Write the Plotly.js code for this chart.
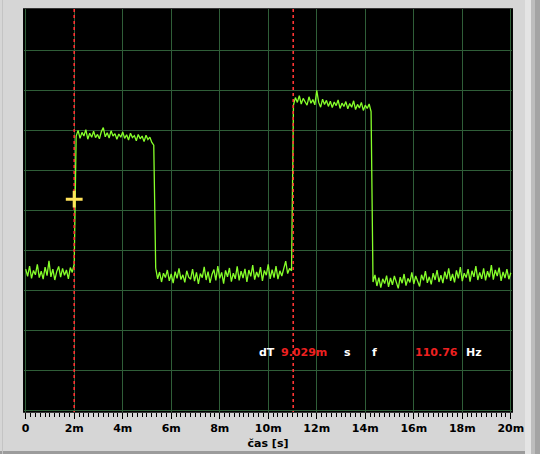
<!DOCTYPE html>
<html>
<head>
<meta charset="utf-8">
<script src="https://cdn.plot.ly/plotly-3.0.1.min.js"></script>
<style>
html,body{margin:0;padding:0;background:#d6d6d6;}
#chart{width:540px;height:454px;}
</style>
</head>
<body>
<div id="chart"></div>
<script>
// ---- data (time in ms, amplitude in screen divisions) ----
const sampleStep = 0.08; // ms between samples
const signal = [
  // low level 0 .. 2.00 ms
  3.52, 3.34, 3.60, 3.29, 3.49, 3.38, 3.64, 3.31, 3.47, 3.27,
  3.57, 3.36, 3.73, 3.33, 3.52, 3.25, 3.46, 3.59, 3.32, 3.54,
  3.37, 3.50, 3.28, 3.56, 3.44, 3.65,
  // first pulse 2.08 .. 5.28 ms
  6.85, 6.99, 6.79, 6.94, 6.85, 7.01, 6.77, 6.92, 6.82, 6.97,
  6.81, 6.89, 6.78, 6.96, 7.06, 6.83, 6.93, 6.80, 6.98, 6.85,
  6.91, 6.77, 6.90, 6.82, 6.95, 6.79, 6.88, 6.75, 6.92, 6.81,
  6.86, 6.73, 6.89, 6.78, 6.85, 6.71, 6.87, 6.76, 6.82, 6.69,
  6.62,
  // low level 5.36 .. 10.88 ms
  3.55, 3.28, 3.45, 3.20, 3.42, 3.31, 3.50, 3.23, 3.40, 3.17,
  3.46, 3.29, 3.54, 3.26, 3.38, 3.19, 3.48, 3.32, 3.27, 3.52,
  3.22, 3.44, 3.15, 3.41, 3.31, 3.58, 3.25, 3.46, 3.18, 3.39,
  3.51, 3.24, 3.60, 3.29, 3.44, 3.16, 3.49, 3.33, 3.55, 3.21,
  3.42, 3.28, 3.59, 3.24, 3.47, 3.30, 3.53, 3.20, 3.50, 3.34,
  3.62, 3.26, 3.45, 3.32, 3.57, 3.23, 3.49, 3.37, 3.64, 3.28,
  3.51, 3.31, 3.60, 3.27, 3.48, 3.35, 3.56, 3.72, 3.41, 3.54,
  3.48,
  // second pulse 11.04 .. 14.24 ms
  7.62, 7.81, 7.69, 7.86, 7.65, 7.79, 7.71, 7.62, 7.83, 7.67,
  7.76, 7.63, 7.99, 7.69, 7.57, 7.77, 7.64, 7.74, 7.59, 7.72,
  7.56, 7.70, 7.61, 7.75, 7.54, 7.67, 7.59, 7.71, 7.53, 7.66,
  7.57, 7.73, 7.51, 7.64, 7.55, 7.69, 7.49, 7.62, 7.54, 7.65,
  7.46,
  // low level 14.32 .. 20.00 ms
  3.20, 3.38, 3.10, 3.31, 3.06, 3.28, 3.16, 3.36, 3.08, 3.30,
  3.13, 3.35, 3.21, 3.04, 3.32, 3.17, 3.40, 3.11, 3.29, 3.19,
  3.44, 3.15, 3.35, 3.22, 3.09, 3.38, 3.24, 3.47, 3.18, 3.33,
  3.14, 3.42, 3.25, 3.50, 3.20, 3.37, 3.17, 3.46, 3.27, 3.54,
  3.23, 3.40, 3.19, 3.49, 3.29, 3.57, 3.22, 3.42, 3.31, 3.52,
  3.21, 3.48, 3.33, 3.60, 3.25, 3.44, 3.28, 3.54, 3.24, 3.47,
  3.32, 3.62, 3.26, 3.50, 3.35, 3.56, 3.23, 3.45, 3.30, 3.52,
  3.27, 3.43
];
const cursorTimes = [2.0, 11.03];
const cursorMarkX = [2.0];
const cursorMarkY = [5.27];
const tickValues = [0, 2, 4, 6, 8, 10, 12, 14, 16, 18, 20];
const tickLabels = ['0', '2m', '4m', '6m', '8m', '10m', '12m', '14m', '16m', '18m', '20m'];
const readoutLabels = ['dT', '9.029m', 's', 'f', '110.76', 'Hz'];
const xTitle = 'čas [s]';

// ---- build ----
const times = signal.map((_, i) => i * sampleStep);
const FONT = 'DejaVu Sans, Verdana, sans-serif';

const traces = [
  {
    x: times, y: signal, type: 'scatter', mode: 'lines',
    line: {color: '#86ff2a', width: 1.3}, hoverinfo: 'skip', showlegend: false
  }
];
cursorTimes.forEach(t => {
  traces.push({
    x: [t, t], y: [-1, 11], type: 'scatter', mode: 'lines',
    line: {color: '#ff3434', width: 1.6, dash: 'dot'}, hoverinfo: 'skip', showlegend: false
  });
});
traces.push({
  x: cursorMarkX, y: cursorMarkY, type: 'scatter', mode: 'markers',
  marker: {symbol: 'cross-thin-open', size: 12, color: '#ffe25a', line: {color: '#ffe25a', width: 3}},
  hoverinfo: 'skip', showlegend: false
});

// readout text positions (layout placement)
const readoutX = [9.53, 10.44, 13.04, 14.19, 15.96, 18.07];
const readoutColor = ['#ffffff', '#ee2020', '#ffffff', '#ffffff', '#ee2020', '#ffffff'];
const annotations = readoutLabels.map((txt, i) => ({
  x: readoutX[i], y: 1.43, xref: 'x', yref: 'y', text: txt, showarrow: false,
  xanchor: 'left', yanchor: 'middle',
  font: {family: FONT, size: 11, color: readoutColor[i], weight: 'bold'}
}));

const shapes = [
  // black frame slightly larger than the data window
  {type: 'rect', xref: 'paper', yref: 'paper', x0: -0.002, x1: 1.002, y0: -0.002, y1: 1.002,
   fillcolor: '#000000', line: {width: 0}, layer: 'below'},
  // right bevel strips
  {type: 'rect', xref: 'paper', yref: 'paper', x0: (525-24)/488, x1: (531-24)/488, y0: -0.2, y1: 1.1,
   fillcolor: '#e4e4e4', line: {width: 0}, layer: 'below'},
  {type: 'rect', xref: 'paper', yref: 'paper', x0: (531-24)/488, x1: (535-24)/488, y0: -0.2, y1: 1.1,
   fillcolor: '#bdbdbd', line: {width: 0}, layer: 'below'},
  {type: 'rect', xref: 'paper', yref: 'paper', x0: (535-24)/488, x1: (541-24)/488, y0: -0.2, y1: 1.1,
   fillcolor: '#a4a4a4', line: {width: 0}, layer: 'below'},
  // bottom edge line
  {type: 'rect', xref: 'paper', yref: 'paper', x0: -0.1, x1: (525-24)/488, y0: -(451-412)/403, y1: -(455-412)/403,
   fillcolor: '#9c9c9c', line: {width: 0}, layer: 'below'},
  // left edge line
  {type: 'rect', xref: 'paper', yref: 'paper', x0: (2-24)/488, x1: (3-24)/488, y0: -0.2, y1: 1.1,
   fillcolor: '#c4c4c4', line: {width: 0}, layer: 'below'}
];

const layout = {
  width: 540, height: 454,
  margin: {l: 24, r: 28, t: 9, b: 42, pad: 0},
  paper_bgcolor: '#d6d6d6',
  plot_bgcolor: '#000000',
  showlegend: false,
  font: {family: FONT, size: 11, color: '#000000'},
  xaxis: {
    range: [-0.07, 20.05],
    tickmode: 'array', tickvals: tickValues, ticktext: tickLabels,
    ticks: 'outside', ticklen: 6, tickwidth: 1, tickcolor: '#000000',
    tickfont: {family: FONT, size: 11, color: '#000000', weight: 'bold'},
    showgrid: true, gridcolor: '#2f5e38', gridwidth: 1,
    zeroline: false, showline: false, fixedrange: true,
    minor: {dtick: 0.2, tick0: 0, ticks: 'outside', ticklen: 4, tickwidth: 1, tickcolor: '#000000', showgrid: false},
    title: {text: xTitle, standoff: 5, font: {family: FONT, size: 11, color: '#000000', weight: 'bold'}}
  },
  yaxis: {
    range: [-0.05, 10.025], dtick: 1, tick0: 0,
    showticklabels: false, ticks: '',
    showgrid: true, gridcolor: '#2f5e38', gridwidth: 1,
    zeroline: false, showline: false, fixedrange: true
  },
  annotations: annotations,
  shapes: shapes
};

Plotly.newPlot('chart', traces, layout, {displayModeBar: false, staticPlot: true});
</script>
</body>
</html>
